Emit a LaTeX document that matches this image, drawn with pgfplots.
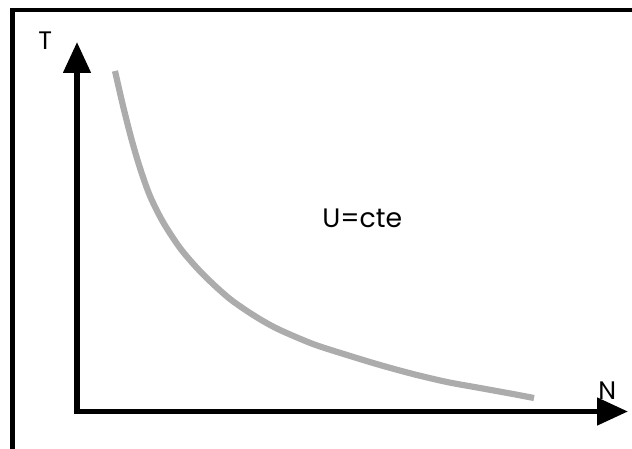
\documentclass[border=0pt]{standalone}
\usepackage{fontspec}
\setmainfont{Poppins}
\usepackage{pgfplots}
\pgfplotsset{compat=1.18}
\usetikzlibrary{arrows.meta}
\definecolor{curvegray}{RGB}{172,172,172}
\begin{document}
\begin{tikzpicture}
\begin{axis}[
  scale only axis, width=15.8cm, height=11.2cm,
  xmin=0, xmax=632, ymin=0, ymax=448, y dir=reverse,
  hide axis, clip=true,
]
% frame (top and left edges visible)
\addplot[black, line width=3.5pt, line join=miter] coordinates {(12.5,470) (12.5,10) (660,10)};
% axes
\addplot[black, line width=3.9pt, -{Triangle[length=22pt,width=19pt]}] coordinates {(77,411.5) (77,42)};
\addplot[black, line width=3.9pt, -{Triangle[length=22pt,width=19pt]}] coordinates {(74,411.5) (628,411.5)};
% curve
\addplot[curvegray, line width=4.4pt, smooth, tension=0.5] coordinates {
(115,71) (120,93) (125,114) (132,141) (140,168) (150,196) (163,222) (180,248)
(197,268) (213,284) (230,299) (247,311) (263,321) (280,330) (313,344) (347,355)
(380,365) (413,374) (447,382) (480,388) (513,394) (534,398)};
\node[anchor=base west, inner sep=0pt, font=\fontsize{18}{22}\selectfont] at (axis cs:38,49) {T};
\node[anchor=base west, inner sep=0pt, font=\fontsize{18}{22}\selectfont] at (axis cs:598,399) {N};
\node[anchor=base west, inner sep=0pt, font=\fontsize{19}{22}\selectfont] at (axis cs:322,227) {U=cte};
\end{axis}
\pgfresetboundingbox
\path (current axis.south west) rectangle (current axis.north east);
\end{tikzpicture}
\end{document}
